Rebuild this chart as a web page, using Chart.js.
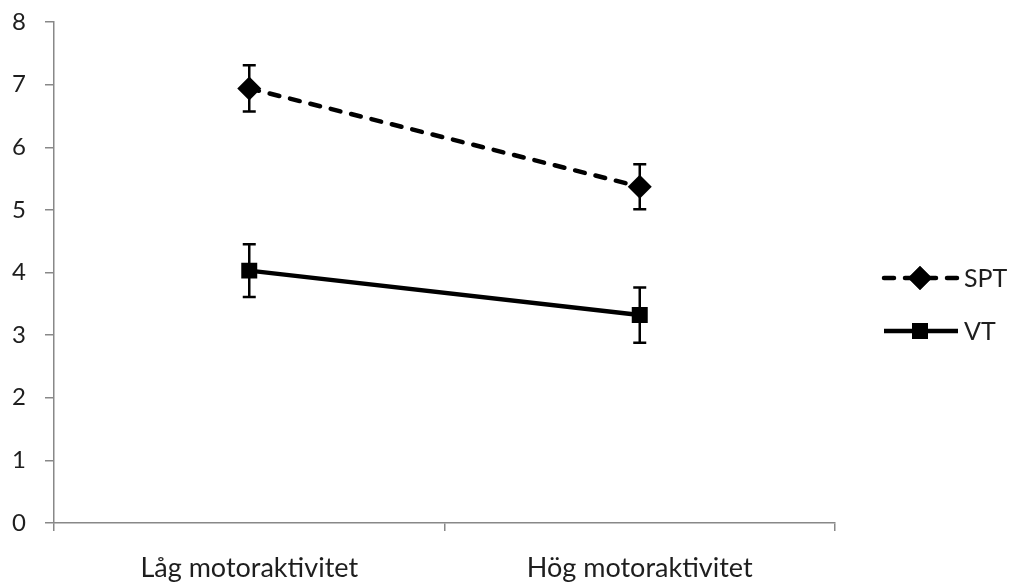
<!DOCTYPE html>
<html>
<head>
<meta charset="utf-8">
<script src="https://cdn.jsdelivr.net/npm/chart.js@4.4.0/dist/chart.umd.min.js"></script>
<style>
  html, body { margin: 0; padding: 0; background: #fff; }
  #wrap { width: 1009px; height: 583px; position: relative; }
</style>
</head>
<body>
<div id="wrap"><canvas id="chart"></canvas></div>
<script>
// ---- Data ----
const categories = ['Låg motoraktivitet', 'Hög motoraktivitet'];
const sptValues = [6.94, 5.37];
const sptErrors = [0.37, 0.36];
const vtValues = [4.03, 3.32];
const vtErrors = [0.42, 0.44];
const yTicks = [0, 1, 2, 3, 4, 5, 6, 7, 8];

const FONT = 'Lato, "Open Sans", sans-serif';
const AXIS = '#888888';
const TEXT = '#1e1e1e';

// ---- Error bars, drawn through the scales ----
const errorBars = {
  id: 'errorBars',
  afterDatasetsDraw(chart) {
    const { ctx, scales: { x, y } } = chart;
    ctx.save();
    ctx.strokeStyle = '#000';
    ctx.lineWidth = 2.5;
    chart.data.datasets.forEach(ds => {
      ds.data.forEach((v, i) => {
        const px = x.getPixelForValue(i);
        const top = y.getPixelForValue(v + ds.errors[i]);
        const bot = y.getPixelForValue(v - ds.errors[i]);
        ctx.beginPath();
        ctx.moveTo(px, top); ctx.lineTo(px, bot);
        ctx.moveTo(px - 6.5, top); ctx.lineTo(px + 6.5, top);
        ctx.moveTo(px - 6.5, bot); ctx.lineTo(px + 6.5, bot);
        ctx.stroke();
      });
    });
    ctx.restore();
  }
};

// ---- Legend on the right (line + marker + label) ----
const sideLegend = {
  id: 'sideLegend',
  afterDraw(chart) {
    const { ctx } = chart;
    const rows = [278, 331];
    chart.data.datasets.forEach((ds, i) => {
      const yy = rows[i];
      ctx.save();
      ctx.strokeStyle = '#000';
      ctx.lineWidth = ds.borderWidth;
      ctx.lineCap = ds.borderCapStyle || 'butt';
      ctx.setLineDash(ds.borderDash || []);
      ctx.beginPath();
      ctx.moveTo(884, yy); ctx.lineTo(958, yy);
      ctx.stroke();
      ctx.setLineDash([]);
      ctx.fillStyle = '#000';
      Chart.helpers.drawPoint(ctx, { pointStyle: ds.pointStyle, radius: ds.pointRadius, rotation: 0 }, 920, yy);
      ctx.fill();
      ctx.fillStyle = TEXT;
      ctx.font = '25px ' + FONT;
      ctx.textBaseline = 'middle';
      ctx.fillText(ds.label, 964, yy + 1);
      ctx.restore();
    });
  }
};

new Chart(document.getElementById('chart'), {
  type: 'line',
  data: {
    labels: categories,
    datasets: [
      {
        label: 'SPT', data: sptValues, errors: sptErrors,
        borderColor: '#000', backgroundColor: '#000', borderWidth: 4.5,
        borderDash: [10, 11], borderCapStyle: 'round',
        pointStyle: 'rectRot', pointRadius: 12,
        pointBackgroundColor: '#000', pointBorderWidth: 0
      },
      {
        label: 'VT', data: vtValues, errors: vtErrors,
        borderColor: '#000', backgroundColor: '#000', borderWidth: 4.5,
        pointStyle: 'rect', pointRadius: 11.3,
        pointBackgroundColor: '#000', pointBorderWidth: 0
      }
    ]
  },
  options: {
    responsive: true,
    maintainAspectRatio: false,
    animation: false,
    layout: { padding: { left: 0, right: 174, top: 22, bottom: 0 } },
    plugins: { legend: { display: false }, tooltip: { enabled: false } },
    scales: {
      x: {
        offset: true,
        grid: { offset: true, drawOnChartArea: false, color: AXIS, tickLength: 8, lineWidth: 1.5 },
        border: { color: AXIS, width: 1.5 },
        ticks: { color: TEXT, font: { family: FONT, size: 27 }, padding: 21 },
        afterFit: s => { s.height = 60; s.paddingLeft = 0; s.paddingRight = 0; }
      },
      y: {
        min: 0, max: 8,
        afterBuildTicks: s => { s.ticks = yTicks.map(v => ({ value: v })); },
        grid: { drawOnChartArea: false, color: AXIS, tickLength: 9, lineWidth: 1.5 },
        border: { color: AXIS, width: 1.5 },
        ticks: { color: TEXT, font: { family: FONT, size: 24 }, padding: 19 },
        afterFit: s => { s.width = 54; s.paddingTop = 0; s.paddingBottom = 0; }
      }
    }
  },
  plugins: [errorBars, sideLegend]
});
</script>
</body>
</html>
